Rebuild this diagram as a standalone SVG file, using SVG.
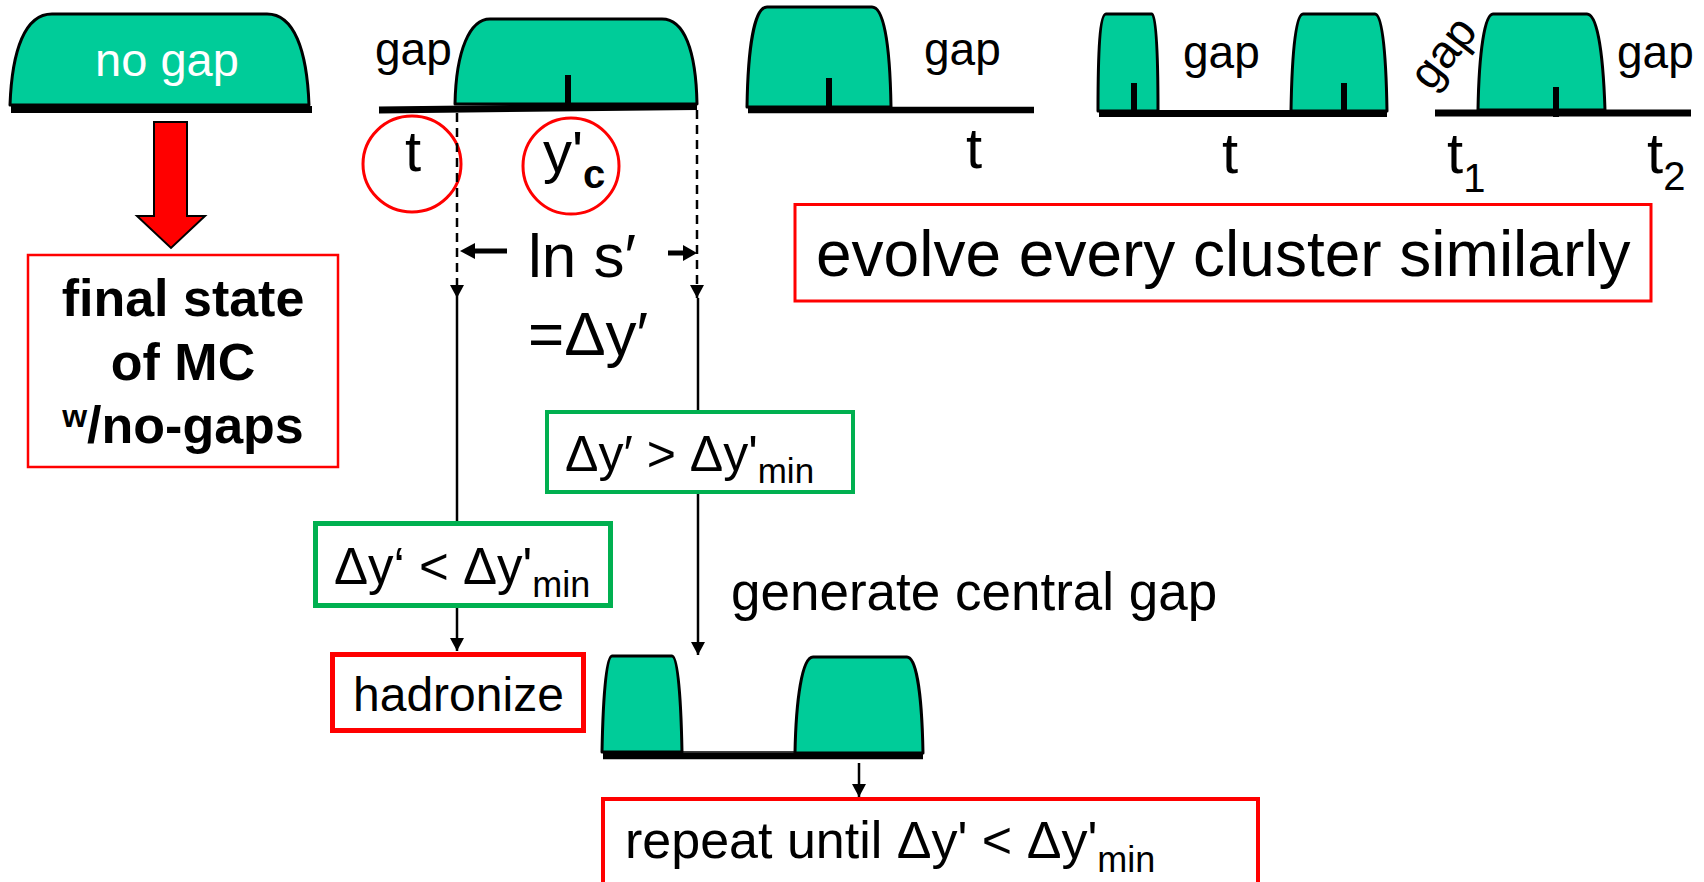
<svg xmlns="http://www.w3.org/2000/svg" width="1704" height="882" viewBox="0 0 1704 882">
<style>
text{font-family:"Liberation Sans",Arial,sans-serif;fill:#000}
.dome{fill:#00CC99;stroke:#000;stroke-width:3;stroke-linejoin:round}
.bar{stroke:#000;stroke-width:7;fill:none}
.tick{stroke:#000;stroke-width:6}
.redbox{fill:#fff;stroke:#FF0000}
.greenbox{fill:#fff;stroke:#00B050}
.conn{stroke:#000;stroke-width:2.5;fill:none}
.dash{stroke-dasharray:9 6}
.lbl{font-size:46px}
.big{font-size:58px}
</style>
<defs>
<marker id="ah" markerUnits="userSpaceOnUse" markerWidth="13" markerHeight="14" refX="13" refY="7" orient="auto">
<path d="M0,0 L13,7 L0,14 z" fill="#000"/>
</marker>
</defs>
<rect width="1704" height="882" fill="#fff"/>

<g id="cluster-nogap">
<path class="dome" d="M10,105 C12,50 25,14 52,14 L267,14 C294,14 307,50 309,105 Z"/>
<line class="bar" x1="11" y1="109.5" x2="312" y2="109.5"/>
<text x="167" y="76" font-size="47" text-anchor="middle" style="fill:#fff">no gap</text>
</g>

<g id="red-arrow">
<polygon points="154,122 187,122 187,216 205,216 171,248 137,216 154,216" fill="#FF0000" stroke="#000" stroke-width="2"/>
</g>

<g id="final-state">
<rect class="redbox" x="28" y="255" width="310" height="212" stroke-width="2.5"/>
<text x="183" y="316" font-size="52" font-weight="bold" text-anchor="middle">final state</text>
<text x="183" y="380" font-size="52" font-weight="bold" text-anchor="middle">of MC</text>
<text x="183" y="443" font-size="52" font-weight="bold" text-anchor="middle"><tspan font-size="32" dy="-16">w</tspan><tspan dy="16">/no-gaps</tspan></text>
</g>

<g id="cluster-gap-left">
<text class="lbl" x="375" y="65">gap</text>
<path class="dome" d="M455,104 C456,50 470,19 490,19 L662,19 C684,19 696,50 697,104 Z"/>
<line class="tick" x1="568" y1="75" x2="568" y2="106"/>
<line class="bar" x1="379" y1="110" x2="697" y2="106.5"/>
<ellipse cx="412" cy="164" rx="49" ry="48" fill="none" stroke="#FF0000" stroke-width="3"/>
<text class="big" x="405" y="171">t</text>
<ellipse cx="571" cy="166" rx="48" ry="48" fill="none" stroke="#FF0000" stroke-width="3"/>
<text class="big" x="543" y="172">y'<tspan font-size="40" font-weight="bold" dy="16">c</tspan></text>
</g>

<g id="ln-s">
<polygon points="460,251 475,243 475,248.5 507,248.5 507,253.5 475,253.5 475,259" fill="#000"/>
<text x="528" y="277" font-size="62">ln s′</text>
<polygon points="697,253 683,245 683,250.5 668,250.5 668,255.5 683,255.5 683,261" fill="#000"/>
<text x="528" y="355" font-size="62">=Δy′</text>
</g>

<g id="cluster-gap-right">
<path class="dome" d="M747,107 C748,45 755,7 767,7 L872,7 C884,7 890,45 891,107 Z"/>
<line class="tick" x1="829" y1="78" x2="829" y2="108"/>
<line x1="748" y1="110" x2="1034" y2="110" stroke="#000" stroke-width="6.5"/>
<text class="lbl" x="924" y="65">gap</text>
<text class="big" x="966" y="168">t</text>
</g>

<g id="cluster-gap-center">
<path class="dome" d="M1098,111 C1098,50 1100,14 1106,14 L1152,14 C1156,14 1158,50 1158,111 Z"/>
<path class="dome" d="M1291,111 C1292,50 1296,14 1303,14 L1375,14 C1382,14 1386,50 1387,111 Z"/>
<line class="tick" x1="1134" y1="83" x2="1134" y2="112"/>
<line class="tick" x1="1344" y1="83" x2="1344" y2="112"/>
<line class="bar" x1="1099" y1="113.5" x2="1387" y2="113.5"/>
<text class="lbl" x="1183" y="68">gap</text>
<text class="big" x="1222" y="173">t</text>
</g>

<g id="cluster-gap-both">
<text class="lbl" x="1455" y="62" text-anchor="middle" transform="rotate(-52 1455 62)">gap</text>
<path class="dome" d="M1478,110 C1479,50 1485,14 1493,14 L1587,14 C1597,14 1603,50 1605,110 Z"/>
<line class="tick" x1="1556" y1="87" x2="1556" y2="117"/>
<line class="bar" x1="1435" y1="113" x2="1691" y2="113"/>
<text class="lbl" x="1617" y="68">gap</text>
<text class="big" x="1447" y="173">t<tspan font-size="40" dy="19">1</tspan></text>
<text class="big" x="1647" y="173">t<tspan font-size="40" dy="17">2</tspan></text>
</g>

<g id="evolve">
<rect class="redbox" x="795" y="204.5" width="856" height="96.5" stroke-width="3"/>
<text x="816" y="276" font-size="64">evolve every cluster similarly</text>
</g>

<g id="cond-greater">
<rect class="greenbox" x="547" y="412" width="306" height="80" stroke-width="4"/>
<text x="565" y="471" font-size="50">Δy′ &gt; Δy'<tspan font-size="35" dy="12">min</tspan></text>
</g>

<g id="cond-less">
<rect class="greenbox" x="315.5" y="523.5" width="295" height="82" stroke-width="5"/>
<text x="334" y="584" font-size="51">Δy‘ &lt; Δy'<tspan font-size="36" dy="13">min</tspan></text>
</g>

<g id="hadronize">
<rect class="redbox" x="332.5" y="654.5" width="251" height="76" stroke-width="5"/>
<text x="353" y="711" font-size="48">hadronize</text>
</g>

<g id="generate-label">
<text x="731" y="610" font-size="53">generate central gap</text>
</g>

<g id="cluster-split">
<path class="dome" d="M602,752 C603,700 606,656 612,656 L672,656 C678,656 681,700 682,752 Z"/>
<path class="dome" d="M795,753 C796,700 802,657 813,657 L907,657 C917,657 922,700 923,753 Z"/>
<line x1="682" y1="752" x2="795" y2="752" stroke="#000" stroke-width="1.5"/>
<line x1="603" y1="756" x2="923" y2="756" stroke="#000" stroke-width="6.5"/>
</g>

<g id="repeat">
<rect class="redbox" x="603" y="799" width="655" height="120" stroke-width="4"/>
<text x="625" y="858" font-size="52">repeat until Δy' &lt; Δy'<tspan font-size="36" dy="14">min</tspan></text>
</g>

<g id="connectors">
<line class="conn dash" x1="457" y1="113" x2="457" y2="298" marker-end="url(#ah)"/>
<line class="conn" x1="457" y1="298" x2="457" y2="521"/>
<line class="conn" x1="457" y1="608" x2="457" y2="651" marker-end="url(#ah)"/>
<line class="conn dash" x1="697" y1="110" x2="697" y2="298" marker-end="url(#ah)"/>
<line class="conn" x1="698" y1="298" x2="698" y2="410"/>
<line class="conn" x1="698" y1="494" x2="698" y2="655" marker-end="url(#ah)"/>
<line class="conn" x1="859" y1="763" x2="859" y2="797" marker-end="url(#ah)"/>
</g>
</svg>
